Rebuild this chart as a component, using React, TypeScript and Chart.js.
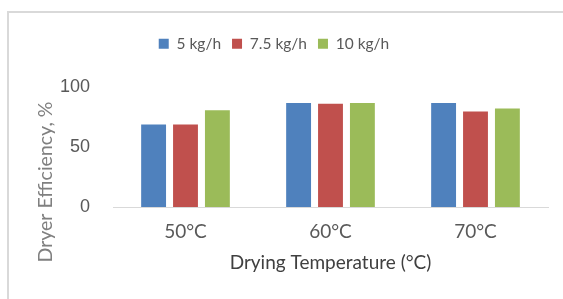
import React, { useEffect, useRef } from "react";
import { Chart, registerables } from "chart.js";

Chart.register(...registerables);

const categories = ["50°C", "60°C", "70°C"];
const seriesNames = ["5 kg/h", "7.5 kg/h", "10 kg/h"];
const values5 = [69, 87, 87];
const values75 = [69, 86.5, 80];
const values10 = [81, 87, 82.5];
const yTicks = [0, 50, 100];
const yTitle = "Dryer Efficiency, %";
const xTitle = "Drying Temperature (°C)";

const colors = ["#4F81BD", "#C0504D", "#9BBB59"];
const FONT = "Lato, 'Open Sans', sans-serif";

const yTitlePlugin = {
  id: "yTitlePlugin",
  afterDraw(chart: any) {
    const ctx = chart.ctx;
    ctx.save();
    ctx.translate(46, 182);
    ctx.rotate(-Math.PI / 2);
    ctx.font = `19.5px ${FONT}`;
    ctx.fillStyle = "#808080";
    ctx.textAlign = "center";
    ctx.textBaseline = "middle";
    ctx.fillText(yTitle, 0, 0);
    ctx.restore();
  },
};

const legendMargin = {
  id: "legendMargin",
  beforeInit(chart: any) {
    const legend = chart.legend;
    if (!legend) return;
    const fit = legend.fit;
    legend.fit = function () {
      fit.call(this);
      this.height += 26;
    };
  },
};

export default function App() {
  const ref = useRef<HTMLCanvasElement>(null);
  useEffect(() => {
    document.body.style.overflow = "hidden";
    const data = [values5, values75, values10];
    const chart = new Chart(ref.current!, {
      type: "bar",
      data: {
        labels: categories,
        datasets: seriesNames.map((n, i) => ({
          label: n,
          data: data[i],
          backgroundColor: colors[i],
          categoryPercentage: 0.66,
          barPercentage: 0.78,
        })),
      },
      plugins: [yTitlePlugin, legendMargin],
      options: {
        responsive: false,
        animation: false,
        layout: { padding: { top: 25, left: 0, right: 15, bottom: 0 } },
        plugins: {
          tooltip: { enabled: false },
          legend: {
            position: "top",
            labels: {
              boxWidth: 10,
              boxHeight: 10,
              padding: 11,
              color: "#595959",
              font: { family: FONT, size: 15.5 },
            },
          },
        },
        scales: {
          x: {
            grid: { display: false, drawTicks: false },
            border: { display: true, color: "#d9d9d9", width: 1 },
            ticks: { color: "#595959", font: { family: FONT, size: 19 }, padding: 13 },
            title: {
              display: true,
              text: xTitle,
              color: "#404040",
              font: { family: FONT, size: 19 },
              padding: { top: 0, bottom: 25 },
            },
            afterFit: (s: any) => {
              s.height = 92;
            },
          },
          y: {
            min: 0,
            max: 100,
            afterBuildTicks: (s: any) => {
              s.ticks = yTicks.map((v) => ({ value: v }));
            },
            grid: { display: false, drawTicks: false },
            border: { display: false },
            ticks: { color: "#595959", font: { family: "'Liberation Sans', Arial, sans-serif", size: 18 }, padding: 23 },
            afterFit: (s: any) => {
              s.width = 113;
            },
          },
        },
      },
    });
    return () => chart.destroy();
  }, []);
  return (
    <div style={{ position: "fixed", left: 0, top: 0, width: 563, height: 299, overflow: "hidden", background: "#fff" }}>
      <div
        style={{
          position: "absolute",
          left: 7,
          top: 11,
          width: 600,
          height: 340,
          border: "2px solid #d9d9d9",
          boxSizing: "border-box",
        }}
      />
      <canvas ref={ref} width={563} height={299} style={{ position: "absolute", left: 0, top: 0 }} />
    </div>
  );
}
